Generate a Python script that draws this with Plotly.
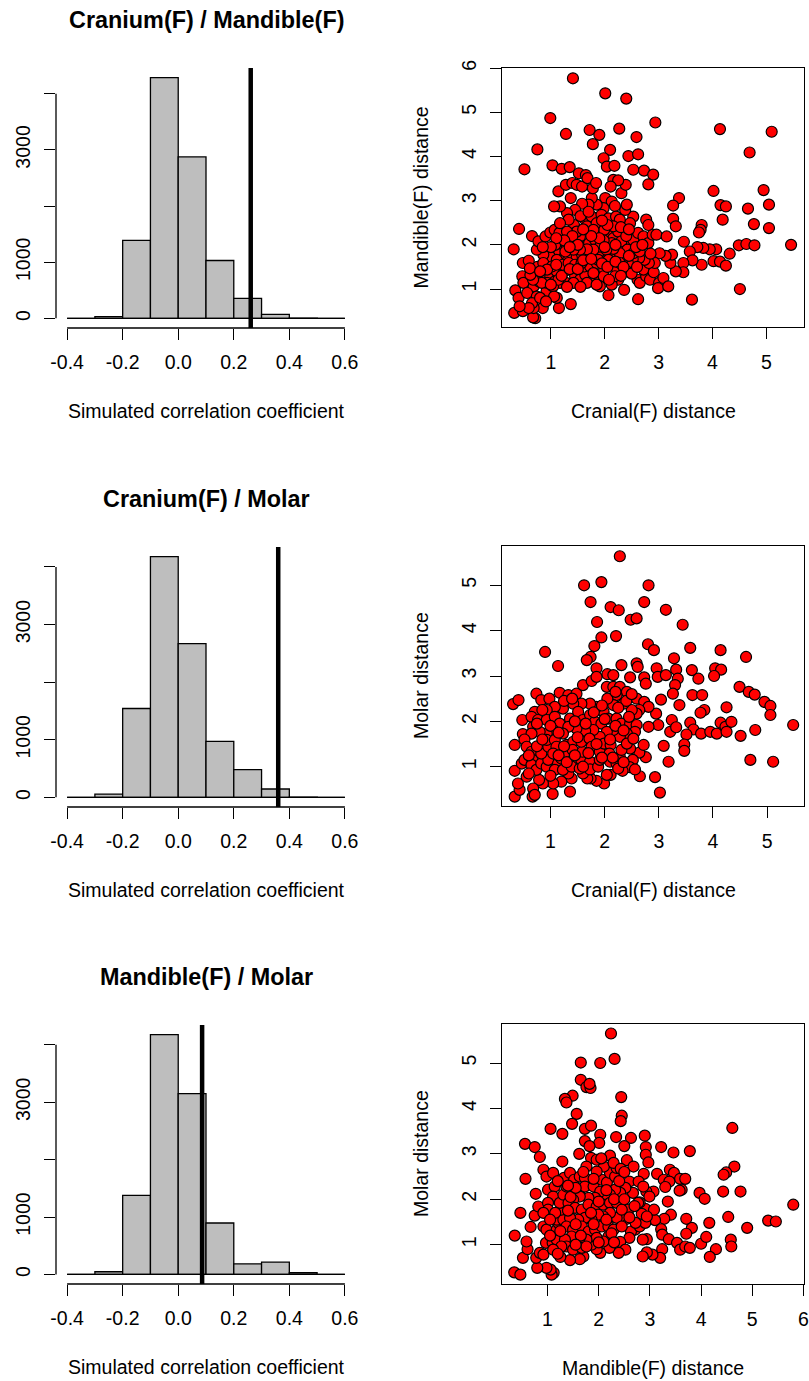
import plotly.graph_objects as go

W, H = 809, 1381

# ---------------- data ----------------
breaks = [-0.4, -0.3, -0.2, -0.1, 0.0, 0.1, 0.2, 0.3, 0.4, 0.5, 0.6]
counts_cran_mand = [0, 30, 1387, 4286, 2875, 1030, 357, 71, 5, 0]
counts_cran_molar = [0, 58, 1543, 4179, 2670, 971, 480, 145, 5, 0]
counts_mand_molar = [0, 46, 1376, 4179, 3150, 896, 185, 214, 29, 0]
obs_cran_mand = 0.261
obs_cran_molar = 0.360
obs_mand_molar = 0.086

hist_titles = ["Cranium(F) / Mandible(F)", "Cranium(F) / Molar", "Mandible(F) / Molar"]
hist_xlabel = "Simulated correlation coefficient"
hist_xticks = [-0.4, -0.2, 0.0, 0.2, 0.4, 0.6]
hist_xticktext = ["-0.4", "-0.2", "0.0", "0.2", "0.4", "0.6"]
hist_yticks = [0, 1000, 2000, 3000, 4000]
hist_yticktext = ["0", "1000", "", "3000", ""]

scatter_xlabels = ["Cranial(F) distance", "Cranial(F) distance", "Mandible(F) distance"]
scatter_ylabels = ["Mandible(F) distance", "Molar distance", "Molar distance"]

# Scatter 1: Cranial(F) vs Mandible(F)
sc1 = [
    (1.41, 5.77), (2.01, 5.43), (2.40, 5.31), (0.99, 4.87), (2.94, 4.77), (1.28, 4.51), (1.72, 4.60),
    (1.90, 4.49), (2.27, 4.63), (2.59, 4.44), (1.78, 4.28), (2.10, 4.15), (0.75, 4.16), (2.44, 4.01),
    (2.62, 4.05), (1.98, 3.96), (0.51, 3.71), (1.03, 3.80), (1.20, 3.72), (1.35, 3.76), (2.04, 3.77),
    (2.18, 3.79), (2.53, 3.70), (2.73, 3.68), (2.90, 3.59), (2.81, 3.37), (4.14, 4.62), (5.10, 4.56),
    (4.69, 4.09), (4.02, 3.22), (4.95, 3.24), (3.38, 3.06), (3.27, 2.89), (4.15, 2.90), (4.25, 2.87),
    (4.66, 2.82), (5.05, 2.91), (4.19, 2.57), (4.77, 2.47), (5.05, 2.38), (3.27, 2.59), (3.32, 2.42),
    (3.80, 2.45), (3.78, 2.34), (3.75, 2.28), (3.47, 2.07), (5.46, 2.00), (4.49, 1.99), (4.63, 2.02),
    (4.78, 1.99), (4.07, 1.90), (4.32, 1.80), (3.95, 1.90), (3.83, 1.93), (3.72, 1.95), (3.58, 1.85),
    (4.02, 1.63), (4.14, 1.62), (4.25, 1.53), (3.80, 1.55), (3.63, 1.65), (3.46, 1.59), (3.46, 1.38),
    (3.32, 1.40), (3.22, 1.59), (3.25, 1.78), (3.13, 1.75), (3.02, 1.81), (4.51, 1.00), (3.62, 0.76),
    (2.62, 0.77), (2.07, 0.86), (1.37, 0.66), (1.15, 0.57), (0.31, 1.90), (0.41, 2.36), (0.65, 2.20),
    (0.34, 0.97), (0.40, 0.80), (0.32, 0.46), (0.48, 0.50), (0.71, 0.34), (0.67, 0.36), (0.85, 0.57),
    (0.68, 1.06), (0.75, 1.50), (0.48, 1.59), (0.59, 1.64), (0.47, 1.29), (0.49, 1.14), (0.56, 0.91),
    (0.74, 0.83), (0.92, 0.95), (0.78, 1.17), (0.90, 1.29), (0.99, 1.29), (1.07, 1.17), (1.11, 1.40),
    (1.25, 1.40), (1.28, 1.14), (1.45, 1.29), (1.54, 1.21), (1.64, 1.32), (1.62, 1.51), (1.73, 1.51),
    (1.85, 1.59), (1.99, 1.44), (2.11, 1.55), (2.23, 1.44), (2.25, 1.21), (2.36, 0.98), (2.13, 1.10),
    (1.98, 1.29), (1.91, 1.06), (1.79, 1.21), (2.53, 1.47), (2.61, 1.21), (2.65, 1.14), (2.77, 1.29),
    (2.72, 1.44), (2.84, 1.21), (2.91, 1.38), (3.01, 1.14), (2.99, 1.02), (3.09, 1.25), (3.18, 1.06),
    (2.93, 1.59), (2.82, 1.59), (2.74, 1.66), (2.64, 1.70), (2.52, 1.68), (2.43, 1.59), (2.35, 1.70),
    (2.17, 1.72), (2.01, 1.74), (1.88, 1.81), (1.74, 1.81), (1.62, 1.74), (1.51, 1.78), (1.39, 1.70),
    (1.28, 1.74), (1.17, 1.80), (1.08, 1.85), (0.98, 1.74), (0.86, 1.78), (0.74, 1.89), (0.77, 2.08),
    (0.90, 2.19), (0.99, 2.28), (1.07, 2.34), (1.16, 2.27), (1.20, 2.04), (1.08, 2.00), (1.30, 1.96),
    (1.42, 2.08), (1.54, 2.19), (1.60, 1.96), (1.71, 2.04), (1.82, 2.11), (1.88, 2.30), (2.04, 2.23),
    (2.16, 2.15), (2.25, 2.30), (2.31, 1.93), (2.47, 2.00), (2.53, 2.11), (2.62, 2.27), (2.72, 2.19),
    (2.81, 2.04), (2.89, 2.23), (2.96, 2.23), (3.15, 2.19), (2.77, 2.57), (2.81, 2.45), (2.53, 2.64),
    (2.47, 2.49), (2.38, 2.79), (2.41, 2.91), (2.31, 3.17), (2.39, 3.36), (2.16, 3.47), (2.25, 3.46),
    (2.11, 3.32), (2.01, 3.06), (2.13, 2.98), (2.19, 2.88), (1.98, 2.83), (1.85, 2.91), (1.76, 3.06),
    (1.70, 2.91), (1.58, 2.93), (1.45, 2.79), (1.37, 3.06), (1.30, 2.72), (1.17, 2.87), (1.06, 2.87),
    (1.14, 3.21), (1.28, 3.36), (1.40, 3.40), (1.48, 3.36), (1.58, 3.32), (1.52, 3.62), (1.65, 3.58),
    (1.68, 3.51), (1.78, 3.28), (1.84, 3.40), (1.43, 2.45), (1.33, 2.57), (1.17, 2.49), (1.64, 2.57),
    (1.76, 2.64), (1.67, 2.42), (1.85, 2.49), (1.94, 2.68), (2.07, 2.60), (2.21, 2.64), (2.28, 2.57),
    (2.16, 2.42), (1.99, 2.34), (1.79, 2.34), (1.48, 2.30), (1.30, 2.30), (2.13, 2.04), (1.98, 2.10),
    (2.31, 2.08), (2.42, 1.89), (2.53, 1.81), (2.65, 1.85), (2.28, 1.81), (2.16, 1.91), (2.03, 1.89),
    (1.91, 1.96), (1.79, 1.89), (1.67, 1.90), (1.54, 1.89), (1.42, 1.89), (1.27, 1.85), (1.11, 1.66),
    (1.22, 1.55), (1.33, 1.59), (1.45, 1.55), (1.57, 1.59), (1.88, 1.66), (2.07, 1.66), (2.28, 1.59),
    (2.41, 1.40), (2.50, 1.35), (2.19, 1.29), (2.08, 1.21), (1.79, 1.36), (1.67, 1.14), (1.42, 1.14),
    (1.17, 1.14), (1.04, 1.06), (0.93, 1.14), (0.83, 1.14), (0.67, 1.21), (0.62, 1.32), (0.61, 1.47),
    (0.86, 1.59), (1.02, 1.51), (0.93, 1.44), (1.11, 0.80), (1.06, 0.83), (1.14, 1.21), (0.68, 0.57),
    (0.65, 0.68), (0.80, 0.80), (0.91, 0.72), (0.59, 0.57), (0.42, 0.61),
    (1.10, 1.55), (1.20, 1.30), (1.35, 1.45), (1.50, 1.45), (1.60, 1.65), (1.75, 1.68), (1.95, 1.58),
    (2.05, 1.50), (2.20, 1.62), (2.35, 1.50), (2.45, 1.75), (2.58, 1.95), (2.40, 2.20), (2.30, 2.40),
    (2.05, 2.45), (1.90, 2.15), (1.75, 2.20), (1.60, 2.35), (1.40, 2.20), (1.25, 2.10), (1.10, 2.15),
    (1.00, 1.95), (0.85, 1.95), (0.80, 1.40), (1.00, 1.10), (1.30, 1.05), (1.55, 1.05), (1.85, 1.10),
    (2.00, 1.95), (2.20, 2.00), (1.50, 2.00), (1.35, 1.95), (1.95, 2.55), (1.55, 2.65), (2.45, 2.35),
    (2.70, 2.00), (2.85, 1.80), (2.60, 1.50), (2.30, 1.30), (1.70, 2.75),
]
cranial1_x = [p[0] for p in sc1]
mandible1_y = [p[1] for p in sc1]

# Scatter 2: Cranial(F) vs Molar
sc2 = [
    (2.28, 5.64), (1.62, 5.00), (1.94, 5.07), (2.81, 5.00), (1.74, 4.63), (2.11, 4.52), (2.26, 4.45),
    (2.73, 4.63), (3.13, 4.46), (2.48, 4.24), (2.59, 4.27), (3.44, 4.13), (1.86, 4.19), (1.94, 3.85),
    (2.21, 3.88), (1.81, 3.66), (2.80, 3.70), (2.91, 3.57), (0.90, 3.53), (1.74, 3.42), (1.67, 3.35),
    (3.58, 3.62), (4.14, 3.57), (4.61, 3.42), (3.28, 3.39), (1.14, 3.22), (2.31, 3.24), (2.59, 3.28),
    (2.61, 3.20), (1.85, 3.17), (2.96, 3.17), (3.32, 3.14), (3.61, 3.13), (4.04, 3.17), (4.15, 3.14),
    (4.02, 3.00), (2.05, 3.04), (2.16, 3.02), (2.47, 2.97), (2.73, 2.97), (2.76, 2.83), (2.98, 2.98),
    (3.13, 3.02), (3.35, 2.94), (3.30, 2.80), (3.73, 2.94), (3.26, 2.61), (3.62, 2.58), (3.80, 2.58),
    (4.49, 2.76), (4.66, 2.65), (4.77, 2.59), (4.95, 2.43), (5.06, 2.34), (5.06, 2.14), (5.48, 1.92),
    (4.25, 2.31), (3.84, 2.25), (3.77, 2.19), (3.38, 2.36), (3.04, 2.48), (2.95, 2.17), (2.99, 1.92),
    (3.24, 2.03), (3.21, 1.77), (3.32, 1.87), (2.81, 1.88), (3.58, 1.97), (3.64, 1.82), (3.78, 1.73),
    (3.95, 1.77), (4.07, 1.73), (4.14, 1.97), (4.23, 1.88), (4.25, 1.77), (4.34, 1.99), (4.51, 1.68),
    (4.78, 1.81), (3.51, 1.71), (3.47, 1.49), (3.47, 1.35), (3.09, 1.46), (3.18, 1.11), (4.69, 1.15),
    (5.11, 1.11), (2.93, 0.77), (3.02, 0.43), (2.65, 0.79), (2.76, 1.21), (2.64, 1.31), (2.72, 1.48),
    (2.47, 1.40), (2.52, 1.15), (2.46, 0.99), (2.33, 0.91), (2.56, 0.94), (2.11, 0.82), (1.99, 0.63),
    (1.85, 0.69), (1.74, 0.74), (1.68, 0.74), (1.60, 0.85), (1.39, 0.74), (1.33, 0.85), (1.20, 0.67),
    (1.04, 0.40), (1.05, 0.63), (0.86, 0.63), (0.79, 0.71), (0.68, 0.52), (0.67, 0.34), (0.71, 0.38),
    (0.34, 0.34), (0.43, 0.49), (0.40, 0.63), (0.34, 0.91), (0.56, 0.78), (0.47, 1.07), (0.34, 1.48),
    (0.49, 1.72), (0.48, 2.03), (0.31, 2.38), (0.41, 2.47), (0.74, 2.61), (0.83, 2.47), (0.98, 2.50),
    (1.17, 2.63), (1.33, 2.58), (1.48, 2.61), (1.60, 2.80), (1.76, 2.89), (1.85, 2.98), (2.04, 2.76),
    (2.16, 2.76), (2.28, 2.76), (2.41, 2.65), (2.22, 2.58), (2.59, 2.50), (2.73, 2.43), (2.81, 2.32),
    (2.64, 2.25), (2.59, 2.17), (2.50, 2.25), (2.35, 2.39), (2.16, 2.36), (1.98, 2.21), (1.85, 2.32),
    (1.73, 2.39), (1.57, 2.39), (1.42, 2.39), (1.23, 2.28), (1.08, 2.32), (0.93, 2.25), (0.71, 2.21),
    (0.65, 2.10), (0.77, 2.03), (0.68, 1.88), (0.93, 2.03), (1.08, 2.10), (1.17, 1.95), (1.36, 2.06),
    (1.51, 2.21), (1.60, 2.03), (1.73, 2.14), (1.82, 1.99), (1.94, 1.95), (2.07, 2.06), (2.22, 2.06),
    (2.31, 1.95), (2.47, 1.95), (2.59, 1.92), (2.56, 1.77), (2.41, 1.73), (2.28, 1.66), (2.16, 1.81),
    (2.04, 1.77), (1.91, 1.66), (1.79, 1.81), (1.64, 1.79), (1.48, 1.84), (1.33, 1.88), (1.23, 1.73),
    (1.05, 1.81), (0.93, 1.73), (0.80, 1.77), (0.65, 1.73), (0.52, 1.60), (0.56, 1.44), (0.65, 1.33),
    (0.52, 1.15), (0.67, 1.15), (0.65, 1.04), (0.74, 0.93), (0.83, 1.07), (0.93, 1.00), (0.96, 1.15),
    (0.83, 1.29), (0.96, 1.44), (0.93, 1.59), (1.08, 1.59), (1.11, 1.44), (1.05, 1.29), (1.14, 1.07),
    (1.08, 0.93), (1.23, 0.93), (1.20, 1.18), (1.30, 1.29), (1.30, 1.48), (1.42, 1.55), (1.41, 1.37),
    (1.42, 1.15), (1.39, 1.00), (1.54, 0.96), (1.57, 1.15), (1.59, 1.33), (1.57, 1.55), (1.72, 1.62),
    (1.76, 1.44), (1.73, 1.11), (1.73, 0.94), (1.88, 1.00), (1.91, 1.15), (1.91, 1.33), (1.99, 1.51),
    (2.11, 1.48), (2.09, 1.29), (2.10, 1.11), (2.22, 1.07), (2.28, 1.22), (2.31, 1.37), (2.41, 1.51),
    (2.53, 1.62), (2.04, 0.82), (2.25, 0.96), (1.36, 0.45),
    (0.60, 1.25), (0.75, 1.45), (0.85, 1.60), (0.75, 1.95), (0.85, 2.25), (1.00, 1.90), (1.15, 1.75),
    (1.25, 1.45), (1.15, 1.25), (1.30, 1.10), (1.45, 1.25), (1.50, 1.65), (1.45, 2.00), (1.65, 1.95),
    (1.70, 1.30), (1.85, 1.50), (1.80, 2.20), (2.00, 2.05), (2.10, 1.60), (2.20, 1.90), (2.35, 1.80),
    (2.45, 2.10), (2.40, 2.45), (2.25, 2.30), (2.05, 2.50), (1.95, 2.35), (2.15, 1.20), (2.35, 1.10),
    (1.60, 1.00), (1.00, 0.80), (0.60, 0.85), (1.25, 2.45), (1.40, 2.50), (2.50, 2.60), (2.20, 2.65),
    (1.95, 1.20),
]
cranial2_x = [p[0] for p in sc2]
molar2_y = [p[1] for p in sc2]

# Scatter 3: Mandible(F) vs Molar
sc3 = [
    (2.24, 5.65), (2.31, 5.09), (1.65, 5.01), (2.03, 5.00), (1.65, 4.63), (1.76, 4.47), (1.84, 4.45),
    (1.82, 4.54), (2.44, 4.25), (1.49, 4.28), (1.34, 4.21), (1.37, 4.13), (1.57, 3.88), (2.45, 3.84),
    (2.43, 3.72), (1.48, 3.66), (1.73, 3.55), (1.85, 3.62), (4.61, 3.57), (1.06, 3.55), (1.29, 3.44),
    (2.03, 3.42), (2.34, 3.37), (2.90, 3.40), (2.63, 3.35), (1.73, 3.28), (2.01, 3.24), (1.82, 3.17),
    (0.56, 3.22), (0.75, 3.15), (2.50, 3.17), (2.92, 3.15), (3.22, 3.15), (3.46, 3.03), (3.78, 3.06),
    (1.62, 3.00), (0.85, 2.93), (2.22, 2.96), (2.92, 2.98), (1.85, 2.91), (1.29, 2.83), (2.97, 2.81),
    (2.55, 2.86), (2.68, 2.72), (4.65, 2.72), (4.49, 2.59), (4.44, 2.54), (3.39, 2.65), (3.47, 2.58),
    (3.14, 2.56), (2.88, 2.56), (3.59, 2.45), (3.69, 2.45), (3.27, 2.43), (3.38, 2.39), (3.30, 2.27),
    (3.07, 2.17), (2.93, 2.17), (3.62, 2.21), (3.58, 2.19), (3.97, 2.14), (4.07, 2.01), (4.43, 2.17),
    (4.77, 2.17), (5.80, 1.88), (5.31, 1.53), (5.46, 1.51), (4.53, 1.61), (4.90, 1.37), (4.16, 1.48),
    (3.82, 1.37), (3.71, 1.57), (3.71, 1.24), (3.35, 1.95), (3.41, 1.66), (3.28, 1.57), (3.10, 1.54),
    (3.22, 1.34), (3.24, 1.22), (3.37, 1.12), (3.53, 1.04), (3.59, 0.89), (3.69, 0.96), (3.78, 0.93),
    (4.00, 1.02), (4.10, 1.17), (4.29, 0.90), (4.17, 0.73), (4.58, 1.11), (4.59, 0.96), (3.24, 0.90),
    (3.20, 0.71), (3.05, 0.78), (2.94, 0.83), (2.86, 0.74), (2.94, 1.12), (2.86, 1.11), (2.71, 1.33),
    (2.63, 1.29), (2.60, 1.15), (2.80, 1.40), (2.91, 1.48), (2.91, 1.79), (2.80, 1.93), (2.67, 2.14),
    (2.60, 2.39), (2.52, 2.25), (2.58, 1.77), (2.55, 1.57), (2.42, 1.62), (2.35, 1.59), (2.42, 1.06),
    (2.52, 0.89), (2.39, 0.82), (2.21, 0.93), (2.03, 0.82), (1.96, 0.90), (1.86, 1.00), (1.70, 0.74),
    (1.63, 0.68), (1.44, 0.66), (1.25, 0.73), (1.12, 0.38), (1.08, 0.34), (1.06, 0.45), (0.98, 0.49),
    (0.80, 0.49), (0.78, 0.71), (0.85, 0.82), (0.92, 0.78), (0.52, 0.71), (0.61, 0.90), (0.59, 1.07),
    (0.36, 1.20), (0.35, 0.39), (0.47, 0.34), (0.47, 1.70), (0.57, 2.45), (0.77, 2.12), (0.67, 1.39),
    (0.75, 1.64), (0.82, 1.84), (0.92, 2.65), (0.98, 2.50), (1.11, 2.58), (1.01, 2.21), (1.14, 2.28),
    (1.11, 2.06), (1.01, 1.92), (1.01, 1.77), (0.92, 1.70), (0.92, 1.40), (0.98, 1.33), (0.97, 1.04),
    (1.10, 1.04), (1.18, 1.11), (1.18, 1.33), (1.21, 1.48), (1.18, 1.55), (1.31, 1.55), (1.27, 1.77),
    (1.24, 1.92), (1.31, 2.10), (1.37, 2.28), (1.32, 2.47), (1.44, 2.58), (1.52, 2.43), (1.63, 2.50),
    (1.73, 2.47), (1.63, 2.21), (1.73, 2.28), (1.90, 2.28), (2.06, 2.43), (2.16, 2.37), (2.22, 2.58),
    (2.32, 2.50), (2.35, 2.69), (2.10, 2.72), (1.96, 2.61), (1.76, 2.72), (1.96, 2.87), (2.29, 2.80),
    (2.43, 2.67), (2.42, 2.14), (2.32, 2.21), (2.22, 2.10), (2.12, 2.06), (2.03, 2.17), (1.93, 2.03),
    (1.80, 2.03), (1.63, 2.06), (1.50, 1.99), (1.41, 1.92), (1.54, 1.81), (1.67, 1.77), (1.80, 1.88),
    (1.96, 1.84), (2.09, 1.88), (2.22, 1.92), (2.35, 1.92), (2.45, 1.77), (2.22, 1.70), (2.09, 1.62),
    (1.99, 1.66), (1.86, 1.55), (1.73, 1.59), (1.60, 1.55), (1.44, 1.59), (1.37, 1.40), (1.50, 1.33),
    (1.67, 1.40), (1.80, 1.29), (1.93, 1.33), (2.06, 1.40), (2.19, 1.40), (2.29, 1.33), (2.19, 1.18),
    (2.09, 1.07), (1.96, 1.15), (1.76, 1.11), (1.62, 1.11), (1.47, 1.18), (1.34, 1.11), (1.37, 0.96),
    (1.50, 0.89), (1.67, 0.93), (1.76, 0.96), (1.27, 0.96), (1.11, 0.89), (2.77, 1.92), (2.84, 1.68),
    (2.72, 1.48), (2.78, 2.39), (2.87, 2.28), (2.99, 2.06), (3.08, 1.77), (2.94, 1.62),
    (1.05, 1.20), (1.15, 1.70), (1.25, 1.30), (1.40, 1.75), (1.45, 2.05), (1.55, 2.25), (1.55, 1.45),
    (1.65, 1.20), (1.85, 1.70), (1.90, 1.45), (1.90, 2.45), (2.00, 1.95), (2.15, 2.20), (2.15, 1.55),
    (2.25, 1.25), (2.30, 2.00), (2.40, 2.40), (2.50, 2.00), (2.45, 1.40), (2.60, 1.60), (2.70, 1.85),
    (2.05, 2.90), (1.70, 2.60), (1.40, 2.30), (1.20, 2.40), (1.05, 1.55), (2.00, 1.05), (1.55, 1.00),
    (1.20, 0.80), (2.50, 2.60), (2.30, 1.05),
]
mandible3_x = [p[0] for p in sc3]
molar3_y = [p[1] for p in sc3]

# ---------------- layout geometry (pixels) ----------------
FONT = "Liberation Sans, Arial, Helvetica, sans-serif"
BASE = 19.5
hist_px = (56, 356)
scat_px = (502, 804)
hist_rows = [(68, 328), (547, 807), (1025, 1284)]
scat_rows = [(68, 327), (546, 806), (1024, 1284)]
scat_xranges = [[0.093, 5.70], [0.105, 5.68], [0.111, 6.01]]
scat_yranges = [[0.141, 6.003], [0.134, 5.866], [0.134, 5.859]]
scat_xticks = [[1, 2, 3, 4, 5], [1, 2, 3, 4, 5], [1, 2, 3, 4, 5, 6]]
scat_yticks = [[1, 2, 3, 4, 5, 6], [1, 2, 3, 4, 5], [1, 2, 3, 4, 5]]


def xd(a, b):
    return [a / W, b / W]


def yd(top, bot):
    return [1 - bot / H, 1 - top / H]


fig = go.Figure()
layout = dict(
    template="none",
    width=W, height=H, margin=dict(l=0, r=0, t=0, b=0, pad=0, autoexpand=False),
    paper_bgcolor="white", plot_bgcolor="white", showlegend=False,
    font=dict(family=FONT, size=BASE, color="black"),
    shapes=[], annotations=[],
)

hist_counts = [counts_cran_mand, counts_cran_molar, counts_mand_molar]
hist_obs = [obs_cran_mand, obs_cran_molar, obs_mand_molar]
scatters = [(cranial1_x, mandible1_y), (cranial2_x, molar2_y), (mandible3_x, molar3_y)]

centers = [(breaks[i] + breaks[i + 1]) / 2 for i in range(len(breaks) - 1)]
bw = breaks[1] - breaks[0]

axis_common = dict(showgrid=False, zeroline=False, ticks="outside", ticklen=11, automargin=False,
                   tickwidth=1, tickcolor="black", tickfont=dict(family=FONT, size=BASE, color="black"))

for r in range(3):
    hn = 2 * r + 1
    sn = 2 * r + 2
    hx = "x" if hn == 1 else f"x{hn}"
    hy = "y" if hn == 1 else f"y{hn}"
    sx = f"x{sn}"
    sy = f"y{sn}"
    counts = hist_counts[r]
    cmax = max(counts)

    # histogram bars
    fig.add_trace(go.Bar(x=centers, y=counts, width=[bw] * len(centers),
                         marker=dict(color="#BEBEBE", line=dict(color="black", width=1.3)),
                         xaxis=hx, yaxis=hy, hoverinfo="skip"))
    # baseline of the zero-count bins
    fig.add_trace(go.Scatter(x=[breaks[0], breaks[-1]], y=[0, 0], mode="lines",
                             line=dict(color="black", width=1.3), xaxis=hx, yaxis=hy, hoverinfo="skip"))

    top, bot = hist_rows[r]
    layout["xaxis" + ("" if hn == 1 else str(hn))] = dict(
        domain=xd(*hist_px), anchor=hy, range=[-0.44, 0.64],
        tickvals=hist_xticks, ticktext=hist_xticktext, showline=False,
        ticklabelstandoff=6, **axis_common)
    layout["yaxis" + ("" if hn == 1 else str(hn))] = dict(
        domain=yd(top, bot), anchor=hx, range=[-0.04 * cmax, 1.04 * cmax],
        tickvals=hist_yticks, ticktext=hist_yticktext, tickangle=-90, showline=False,
        ticklabelstandoff=6, **axis_common)

    # axis lines spanning the tick range only (R style)
    layout["shapes"].append(dict(type="line", xref=hx, yref=hy + " domain",
                                 x0=hist_xticks[0], x1=hist_xticks[-1], y0=0, y1=0,
                                 line=dict(color="black", width=1.3)))
    layout["shapes"].append(dict(type="line", xref=hx + " domain", yref=hy,
                                 x0=0, x1=0, y0=hist_yticks[0], y1=hist_yticks[-1],
                                 line=dict(color="black", width=1.3)))
    # observed value line
    layout["shapes"].append(dict(type="line", xref=hx, yref=hy + " domain",
                                 x0=hist_obs[r], x1=hist_obs[r], y0=0, y1=1,
                                 line=dict(color="black", width=4.5)))

    # titles / labels
    cx = (hist_px[0] + hist_px[1]) / 2
    layout["annotations"].append(dict(text="<b>" + hist_titles[r] + "</b>", xref="paper", yref="paper",
                                      x=cx / W, y=1 - (top - 48) / H, showarrow=False,
                                      xanchor="center", yanchor="middle",
                                      font=dict(family=FONT, size=BASE * 1.2, color="black")))
    layout["annotations"].append(dict(text=hist_xlabel, xref="paper", yref="paper",
                                      x=cx / W, y=1 - (bot + 83) / H, showarrow=False,
                                      xanchor="center", yanchor="middle",
                                      font=dict(family=FONT, size=BASE, color="black")))

    # scatter
    xs, ys = scatters[r]
    fig.add_trace(go.Scatter(x=xs, y=ys, mode="markers",
                             marker=dict(size=11, color="#FF0000", line=dict(color="black", width=1.2)),
                             xaxis=sx, yaxis=sy, hoverinfo="skip"))
    stop, sbot = scat_rows[r]
    layout["xaxis" + str(sn)] = dict(
        domain=xd(*scat_px), anchor=sy, range=scat_xranges[r], tickvals=scat_xticks[r],
        showline=True, mirror=True, linecolor="black", linewidth=1.3,
        ticklabelstandoff=6, **axis_common)
    layout["yaxis" + str(sn)] = dict(
        domain=yd(stop, sbot), anchor=sx, range=scat_yranges[r], tickvals=scat_yticks[r],
        tickangle=-90, showline=True, mirror=True, linecolor="black", linewidth=1.3,
        ticklabelstandoff=6, **axis_common)
    scx = (scat_px[0] + scat_px[1]) / 2
    layout["annotations"].append(dict(text=scatter_xlabels[r], xref="paper", yref="paper",
                                      x=scx / W, y=1 - (sbot + 84) / H, showarrow=False,
                                      xanchor="center", yanchor="middle",
                                      font=dict(family=FONT, size=BASE, color="black")))
    layout["annotations"].append(dict(text=scatter_ylabels[r], xref="paper", yref="paper",
                                      x=421 / W, y=1 - ((stop + sbot) / 2) / H, showarrow=False,
                                      textangle=-90, xanchor="center", yanchor="middle",
                                      font=dict(family=FONT, size=BASE, color="black")))

fig.update_layout(**layout)
fig.write_html("out.html")
